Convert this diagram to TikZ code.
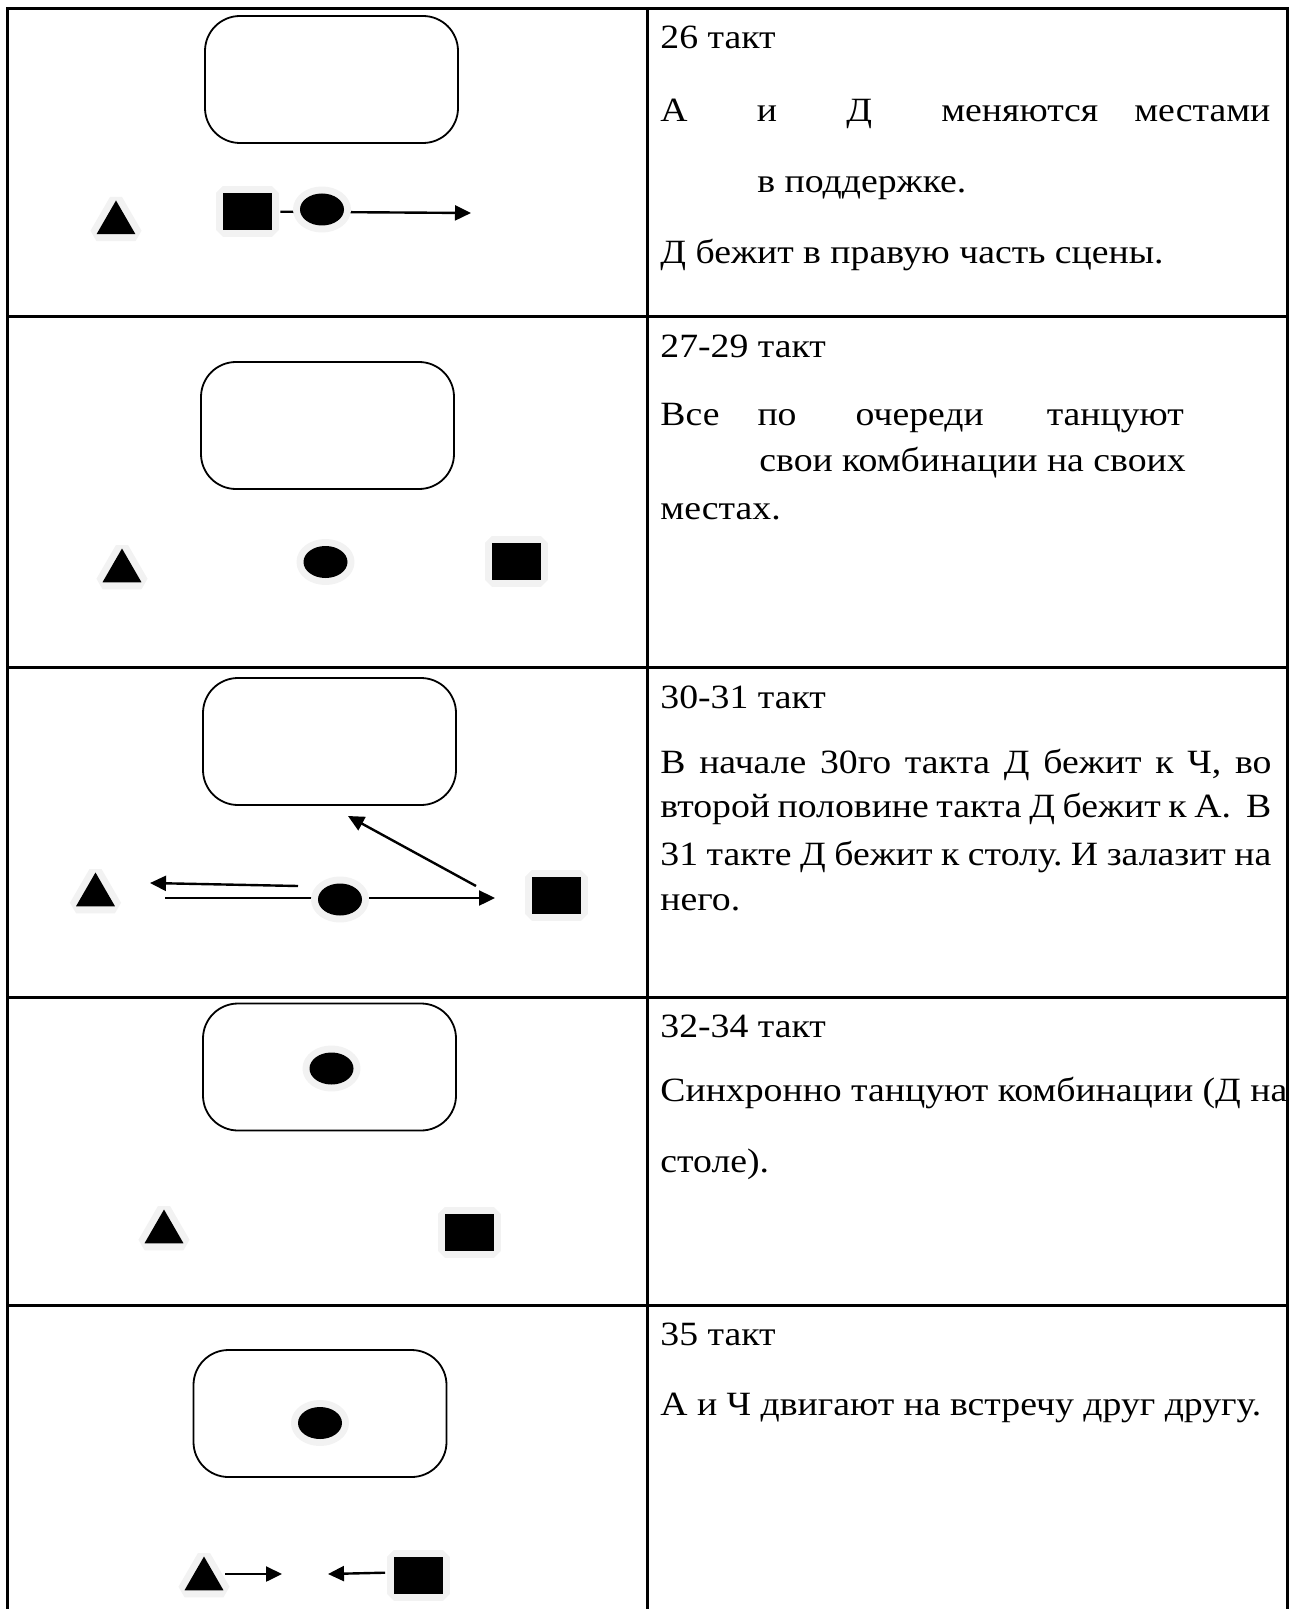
\documentclass[tikz,border=0pt]{standalone}
\usepackage{fontspec}
\setmainfont{Liberation Serif}[FakeStretch=1.11]
\usetikzlibrary{shapes.geometric,arrows.meta}
\definecolor{halo}{HTML}{F2F2F2}
\frenchspacing
\begin{document}
\begin{tikzpicture}[x=0.5pt,y=-0.5pt,
    grid/.style={line width=1.5pt},
    stol/.style={draw,rounded corners=17.5pt,line width=0.9pt,minimum width=126.5pt,minimum height=63.5pt,inner sep=0pt},
    fig/.style={fill=black,inner sep=0pt,preaction={draw=halo,line width=7pt,line join=bevel}},
    tri/.style={fig,regular polygon,regular polygon sides=3,minimum size=22.5pt},
    sq/.style={fig,rectangle,minimum width=24.5pt,minimum height=18.5pt},
    ell/.style={fig,ellipse,minimum width=22pt,minimum height=16pt},
    arr/.style={-{Triangle[length=8pt,width=7.5pt]},line width=1.2pt},
    txt/.style={anchor=base west,inner sep=0pt,font=\fontsize{17}{20}\selectfont}]
    \useasboundingbox (0,0) rectangle (1293,1609);
    % table
    \draw[grid] (7.6,1612) -- (7.6,9) -- (1287,9) -- (1287,1612);
    \draw[grid] (647,9) -- (647,1612);
    \foreach \y in {317,667,997,1305}
      \draw[grid] (7.6,\y) -- (1287,\y);

    % 26
    \node[stol] (stol1) at (331.5,79.5) {};
    \node[tri] (a1) at (116,223) {};
    \node[sq] (ch1) at (247.5,211.5) {};
    \coordinate (d1end) at (471,213);
    \draw (ch1) edge[arr,shorten <=4pt] (d1end);
    \node[ell] (d1) at (322,209.5) {};
    \node[txt] (txt1a) at (660,49) {26 такт};
    \node[txt] (txt1b) at (660,122) {\makebox[305pt][l]{А\hfill и\hfill Д\hfill меняются\hspace{18pt}местами}};
    \node[txt] (txt1c) at (757,193) {в поддержке.};
    \node[txt] (txt1d) at (660,264) {Д бежит в правую часть сцены.};

    % 27-29
    \node[stol] (stol2) at (327.5,425.5) {};
    \node[tri] (a2) at (122,571) {};
    \node[ell] (d2) at (325.5,562) {};
    \node[sq] (ch2) at (516,561.5) {};
    \node[txt] (txt2a) at (660,358) {27-29 такт};
    \node[txt] (txt2b) at (660,426) {Все\hspace{19pt}по\hspace{29.5pt}очереди\hspace{31.5pt}танцуют};
    \node[txt] (txt2c) at (759,471) {свои комбинации на своих};
    \node[txt] (txt2d) at (660,519) {местах.};

    % 30-31
    \node[stol] (stol3) at (329.5,741.5) {};
    \node[tri] (a3) at (95.5,895) {};
    \node[sq] (ch3) at (556,895.5) {};
    \coordinate (run1s) at (165,898);
    \coordinate (run1e) at (495,898);
    \coordinate (run2s) at (298,886);
    \coordinate (run2e) at (150,883);
    \coordinate (run3s) at (476,886);
    \coordinate (run3e) at (348,816);
    \draw (run1s) edge[arr] (run1e) (run2s) edge[arr] (run2e)
          (run3s) edge[arr] (run3e);
    \node[ell] (d3) at (340,899.5) {};
    \node[txt] (txt3a) at (660,708) {30-31 такт};
    \node[txt] (txt3b) at (660,773) {\makebox[305.5pt][s]{В начале 30го такта Д бежит к Ч, во}};
    \node[txt] (txt3c) at (660,817) {\makebox[305.5pt][s]{второй половине такта Д бежит к А.\ \ В}};
    \node[txt] (txt3d) at (660,865) {\makebox[305.5pt][s]{31 такте Д бежит к столу. И залазит на}};
    \node[txt] (txt3e) at (660,910) {него.};

    % 32-34
    \node[stol] (stol4) at (329.5,1067) {};
    \node[ell] (d4) at (331.5,1068.5) {};
    \node[tri] (a4) at (164,1232) {};
    \node[sq] (ch4) at (469.5,1232.5) {};
    \node[txt] (txt4a) at (660,1037) {32-34 такт};
    \node[txt] (txt4b) at (660,1101) {Синхронно танцуют комбинации (Д на};
    \node[txt] (txt4c) at (660,1172) {столе).};

    % 35
    \node[stol] (stol5) at (320,1413.5) {};
    \node[ell] (d5) at (320,1423) {};
    \node[tri] (a5) at (204,1579) {};
    \node[sq] (ch5) at (418,1575.5) {};
    \coordinate (a5end) at (282,1574);
    \coordinate (ch5end) at (328,1574);
    \draw ([yshift=2.5pt]a5.east) edge[arr,shorten <=4pt] (a5end)
          ([yshift=1.5pt]ch5.west) edge[arr,shorten <=4pt] (ch5end);
    \node[txt] (txt5a) at (660,1345) {35 такт};
    \node[txt] (txt5b) at (660,1415) {А и Ч двигают на встречу друг другу.};
\end{tikzpicture}
\end{document}
